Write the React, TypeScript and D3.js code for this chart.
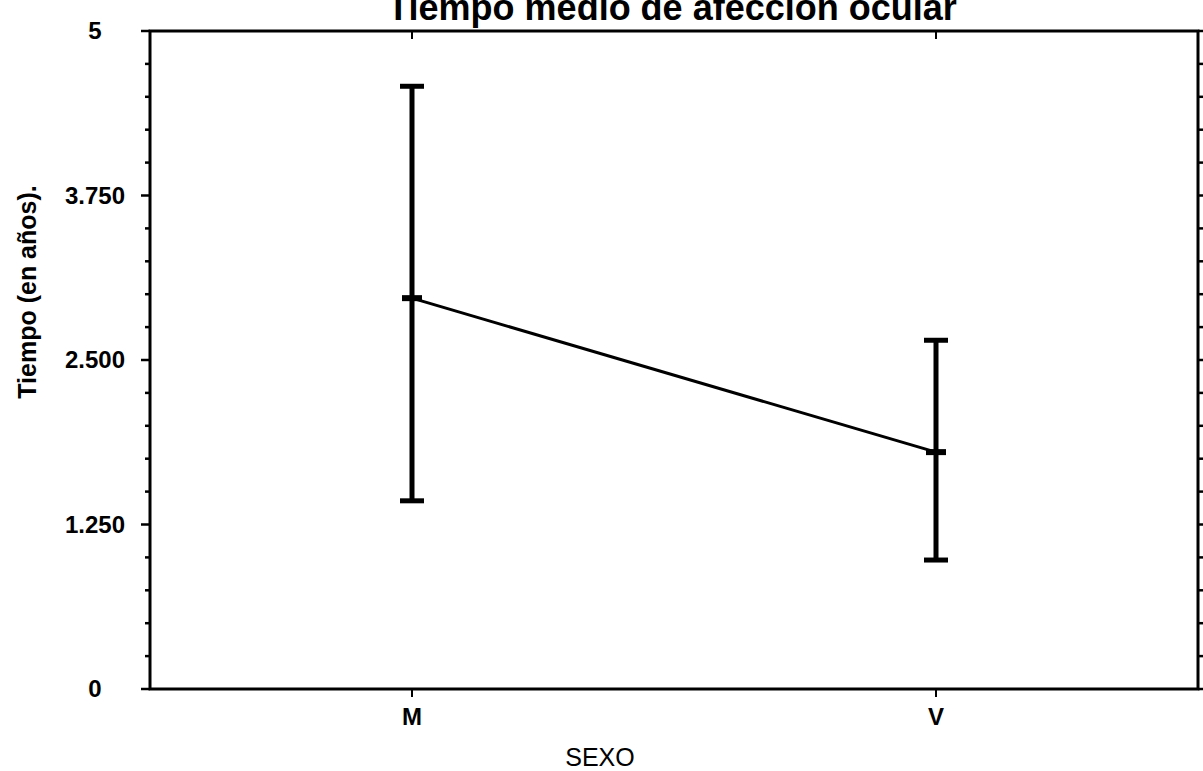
import React from 'react';
import * as d3 from 'd3';

const categories = ['M', 'V'];
const means = [2.97, 1.8];
const upper = [4.58, 2.65];
const lower = [1.43, 0.98];
const yTickLabels = ['0', '1.250', '2.500', '3.750', '5'];
const yTickValues = [0, 1.25, 2.5, 3.75, 5];
const minorTicks = d3.range(0, 5.001, 0.25);

const W = 1203;
const H = 771;
const left = 150;
const right = 1198;
const top = 31;
const bottom = 689;
const font = 'Liberation Sans, Arial, sans-serif';

const App = () => {
  const x = d3.scalePoint().domain(categories).range([left, right]).padding(0.5);
  const y = d3.scaleLinear().domain([0, 5]).range([bottom, top]);
  const line = d3.line<number>()
    .x((d, i) => x(categories[i]) as number)
    .y(d => y(d));

  return (
    <svg width={W} height={H} style={{ position: 'absolute', left: 0, top: 0, background: '#fff' }}>
      <text x={672} y={20} textAnchor="middle" fontFamily={font} fontWeight="bold" fontSize={36}>
        Tiempo medio de afección ocular
      </text>

      {/* frame */}
      <rect x={left} y={top} width={right - left} height={bottom - top} fill="none" stroke="#000" strokeWidth={3} />

      {/* left + right ticks */}
      {minorTicks.map(t => (
        <g key={t}>
          <line x1={left - (yTickValues.includes(t) ? 9 : 5)} x2={left} y1={y(t)} y2={y(t)} stroke="#000" strokeWidth={2.5} />
          <line x1={right} x2={right + 5} y1={y(t)} y2={y(t)} stroke="#000" strokeWidth={2.5} />
        </g>
      ))}

      {yTickValues.map((t, i) => (
        <text key={t} x={95} y={y(t)} dy="0.35em" textAnchor="middle" fontFamily={font} fontWeight="bold" fontSize={24}>
          {yTickLabels[i]}
        </text>
      ))}

      {/* x ticks on top and bottom */}
      {categories.map(c => (
        <g key={c}>
          <line x1={x(c)} x2={x(c)} y1={top} y2={top + 8} stroke="#000" strokeWidth={2} />
          <line x1={x(c)} x2={x(c)} y1={bottom} y2={bottom + 8} stroke="#000" strokeWidth={2} />
          <text x={x(c)} y={725} textAnchor="middle" fontFamily={font} fontWeight="bold" fontSize={24}>{c}</text>
        </g>
      ))}

      <text x={600} y={766} textAnchor="middle" fontFamily={font} fontSize={25}>SEXO</text>
      <text transform="translate(36,292) rotate(-90)" textAnchor="middle" fontFamily={font} fontWeight="bold" fontSize={25}>
        Tiempo (en años).
      </text>

      {/* mean line */}
      <path d={line(means) || ''} fill="none" stroke="#000" strokeWidth={3} />

      {/* error bars */}
      {categories.map((c, i) => {
        const cx = x(c) as number;
        return (
          <g key={c}>
            <line x1={cx} x2={cx} y1={y(lower[i])} y2={y(upper[i])} stroke="#000" strokeWidth={5} />
            <line x1={cx - 12} x2={cx + 12} y1={y(upper[i])} y2={y(upper[i])} stroke="#000" strokeWidth={5} />
            <line x1={cx - 12} x2={cx + 12} y1={y(lower[i])} y2={y(lower[i])} stroke="#000" strokeWidth={5} />
            <line x1={cx - 10} x2={cx + 10} y1={y(means[i])} y2={y(means[i])} stroke="#000" strokeWidth={6} />
          </g>
        );
      })}
    </svg>
  );
};

export default App;
